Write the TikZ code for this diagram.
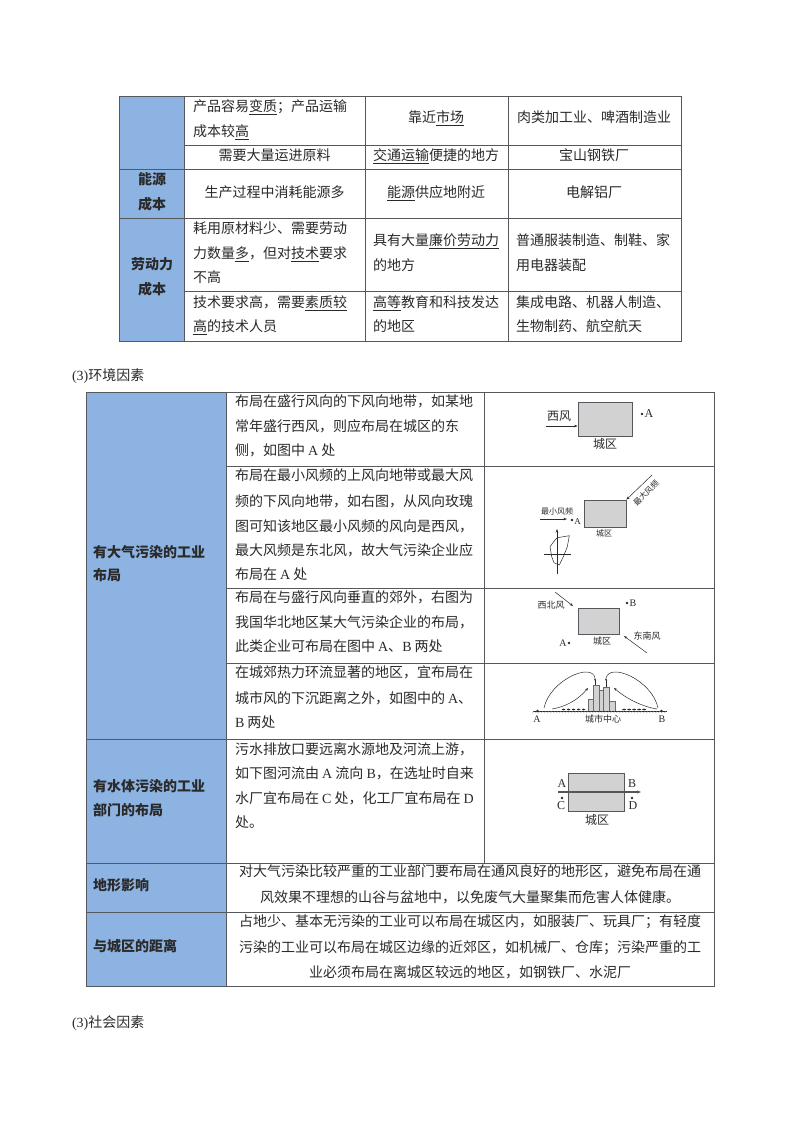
\documentclass[tikz,border=0pt]{standalone}
\usepackage{fontspec}
\setmainfont{Noto Sans CJK SC}
\newfontfamily\lat{Liberation Serif}
\usetikzlibrary{arrows.meta}
\definecolor{hdr}{HTML}{8DB3E2}
\definecolor{rule}{HTML}{55595E}
\definecolor{ink}{HTML}{2A2A2A}
\definecolor{city}{HTML}{D2D2D2}
\newcounter{tn}
\newcommand{\tx}[4]{\stepcounter{tn}\node[txt,anchor=#1] (t\arabic{tn}) at (#2,#3) {#4};}
\newcommand{\la}[1]{{\lat #1}}
\tikzset{
 txt/.style={inner sep=0pt,outer sep=0pt,text height=12pt,text depth=1.4pt,text=ink,font=\fontsize{14}{14}\selectfont},
 lab/.style={inner sep=0pt,outer sep=0pt,text=ink,font=\fontsize{#1}{#1}\selectfont},
 lab/.default=9,
 grid/.style={draw=rule,line width=0.9pt},
 cityb/.style={draw=rule,line width=0.8pt,fill=city,inner sep=0pt},
 wind/.style={draw=ink,line width=0.5pt,-{Stealth[length=3.5pt,width=2.5pt]}},
 fine/.style={draw=ink,line width=0.5pt},
 spot/.style={circle,fill=ink,inner sep=0pt,minimum size=2.6pt},
 bar/.style={draw=ink!70,line width=0.4pt,fill=city}
}
\begin{document}
\begin{tikzpicture}[x=1pt,y=-1pt]
\useasboundingbox (0,0) rectangle (800,1132);
\fill[white] (0,0) rectangle (800,1132);
% table 1
\fill[hdr] (119,96) rectangle (184,341);
\draw[grid] (119,96) rectangle (681,341);
\draw[grid] (184,96) -- (184,341) (365,96) -- (365,341) (508,96) -- (508,341);
\draw[grid] (184,145) -- (681,145) (119,169) -- (681,169) (119,218) -- (681,218) (184,291) -- (681,291);
\tx{west}{193}{106}{产品容易\underline{变质}；产品运输}
\tx{west}{193}{131}{成本较\underline{高}}
\tx{center}{274.5}{155}{需要大量运进原料}
\tx{center}{436}{117}{靠近\underline{市场}}
\tx{center}{594}{117}{肉类加工业、啤酒制造业}
\tx{center}{436}{155}{\underline{交通运输}便捷的地方}
\tx{center}{594}{155}{宝山钢铁厂}
\tx{center}{152}{179}{\textbf{能源}}
\tx{center}{152}{204}{\textbf{成本}}
\tx{center}{274.5}{192}{生产过程中消耗能源多}
\tx{center}{436}{192}{\underline{能源}供应地附近}
\tx{center}{594}{192}{电解铝厂}
\tx{center}{152}{264}{\textbf{劳动力}}
\tx{center}{152}{289}{\textbf{成本}}
\tx{west}{193}{228}{耗用原材料少、需要劳动}
\tx{west}{193}{253}{力数量\underline{多}，但对\underline{技术}要求}
\tx{west}{193}{277}{不高}
\tx{west}{373}{240}{具有大量\underline{廉价劳动力}}
\tx{west}{373}{265}{的地方}
\tx{west}{516}{240}{普通服装制造、制鞋、家}
\tx{west}{516}{265}{用电器装配}
\tx{west}{193}{302}{技术要求高，需要\underline{素质较}}
\tx{west}{193}{326}{\underline{高}的技术人员}
\tx{west}{373}{302}{\underline{高等}教育和科技发达}
\tx{west}{373}{326}{的地区}
\tx{west}{516}{302}{集成电路、机器人制造、}
\tx{west}{516}{326}{生物制药、航空航天}
% heading
\tx{west}{72}{375}{\la{(3)}环境因素}
\tx{west}{72}{1022}{\la{(3)}社会因素}
% table 2
\fill[hdr] (86,392) rectangle (226,986);
\draw[grid] (86,392) rectangle (714,986);
\draw[grid] (226,392) -- (226,986) (484,392) -- (484,863);
\draw[grid] (226,466) -- (714,466) (226,588) -- (714,588) (226,663) -- (714,663);
\draw[grid] (86,739) -- (714,739) (86,863) -- (714,863) (86,912) -- (714,912);
\tx{west}{93}{552}{\textbf{有大气污染的工业}}
\tx{west}{93}{575}{\textbf{布局}}
\tx{west}{93}{786}{\textbf{有水体污染的工业}}
\tx{west}{93}{810}{\textbf{部门的布局}}
\tx{west}{93}{885}{\textbf{地形影响}}
\tx{west}{93}{946}{\textbf{与城区的距离}}
\tx{west}{235}{401}{布局在盛行风向的下风向地带，如某地}
\tx{west}{235}{426}{常年盛行西风，则应布局在城区的东}
\tx{west}{235}{450}{侧，如图中 \la{A} 处}
\tx{west}{235}{475}{布局在最小风频的上风向地带或最大风}
\tx{west}{235}{501}{频的下风向地带，如右图，从风向玫瑰}
\tx{west}{235}{526}{图可知该地区最小风频的风向是西风，}
\tx{west}{235}{550}{最大风频是东北风，故大气污染企业应}
\tx{west}{235}{574}{布局在 \la{A} 处}
\tx{west}{235}{597}{布局在与盛行风向垂直的郊外，右图为}
\tx{west}{235}{622}{我国华北地区某大气污染企业的布局，}
\tx{west}{235}{646}{此类企业可布局在图中 \la{A}、\la{B} 两处}
\tx{west}{235}{672}{在城郊热力环流显著的地区，宜布局在}
\tx{west}{235}{698}{城市风的下沉距离之外，如图中的 \la{A}、}
\tx{west}{235}{722}{\la{B} 两处}
\tx{west}{235}{749}{污水排放口要远离水源地及河流上游，}
\tx{west}{235}{773}{如下图河流由 \la{A} 流向 \la{B}，在选址时自来}
\tx{west}{235}{798}{水厂宜布局在 \la{C} 处，化工厂宜布局在 \la{D}}
\tx{west}{235}{822}{处。}
\tx{center}{470}{871}{对大气污染比较严重的工业部门要布局在通风良好的地形区，避免布局在通}
\tx{center}{470}{897}{风效果不理想的山谷与盆地中，以免废气大量聚集而危害人体健康。}
\tx{center}{470}{921}{占地少、基本无污染的工业可以布局在城区内，如服装厂、玩具厂；有轻度}
\tx{center}{470}{947}{污染的工业可以布局在城区边缘的近郊区，如机械厂、仓库；污染严重的工}
\tx{center}{470}{972}{业必须布局在离城区较远的地区，如钢铁厂、水泥厂}
% diagram 1
\node[cityb,minimum width=54pt,minimum height=34pt] (c1) at (605,419) {};
\node[lab=12] (w1) at (559,416.5) {西风};
\coordinate (w1a) at (546,426);
\draw[wind] (w1a) -- (c1.west |- w1a);
\node[lab=12] (n1) at (605,444) {城区};
\node[spot] (s1) at (642,414) {};
\node[lab=12] (a1) at (649,414) {\la{A}};
% diagram 2
\node[cityb,minimum width=42pt,minimum height=27pt] (c2) at (605,513.5) {};
\coordinate (w2a) at (652,475);
\draw[wind] (w2a) -- (c2.north east);
\node[lab=8,rotate=45] (w2) at (646,493) {最大风频};
\node[lab=8] (w3) at (557,511) {最小风频};
\coordinate (w3a) at (540,519);
\coordinate (w3b) at (567,519);
\draw[wind] (w3a) -- (w3b);
\node[spot] (s2) at (572,520) {};
\node[lab=9] (a2) at (577.5,522) {\la{A}};
\node[lab=8] (n2) at (604,533) {城区};
\coordinate (r1) at (557,574);
\coordinate (r2) at (557,529);
\coordinate (r3) at (544,554);
\coordinate (r4) at (571,554);
\draw[wind] (r1) -- (r2);
\draw[fine] (r3) -- (r4);
\draw[fine] (557.3,537.7) -- (569.3,535.7) -- (567.3,546.7) -- (563.3,556.7) -- (559.3,565) -- (554,562.7) -- (551.7,556.7) -- (550,546.7) -- (555,540) -- cycle;
% diagram 3
\node[cityb,minimum width=41pt,minimum height=26pt] (c3) at (598.5,621) {};
\node[lab=9] (w4) at (551,605) {西北风};
\coordinate (w4a) at (555,592);
\coordinate (w4b) at (573,606);
\draw[wind] (w4a) -- (w4b);
\node[spot] (s3) at (627,603) {};
\node[lab=10] (b3) at (633,603) {\la{B}};
\node[spot] (s4) at (569,643) {};
\node[lab=10] (a3) at (563,643) {\la{A}};
\node[lab=9] (n3) at (602,641) {城区};
\node[lab=9] (w5) at (647,636) {东南风};
\coordinate (w5a) at (647,653);
\coordinate (w5b) at (624,636);
\draw[wind] (w5a) -- (w5b);
% diagram 4
\draw[bar] (588,699) rectangle (593,711);
\draw[bar] (593,685) rectangle (599,711);
\draw[bar] (599,690) rectangle (603,711);
\draw[bar] (603,687) rectangle (609,711);
\draw[bar] (609,701) rectangle (615,711);
\coordinate (g1) at (533,711);
\coordinate (g2) at (667,711);
\draw[draw=ink,line width=0.7pt] (g1) -- (g2);
\foreach \xa in {534,537,...,666}{
 \draw[draw=ink!60,line width=0.3pt] (\xa,711) -- (\xa-1.5,713);
}
\node[spot] (s5) at (537.5,711) {};
\node[spot] (s6) at (661.5,711) {};
\node[lab=10] (a4) at (537,719) {\la{A}};
\node[lab=10] (b4) at (662,719) {\la{B}};
\node[lab=9] (n4) at (603,719) {城市中心};
\coordinate (l1) at (544,708);
\coordinate (l2) at (595,678);
\coordinate (l3) at (552,709);
\coordinate (l4) at (588,688);
\coordinate (m1) at (658,708);
\coordinate (m2) at (606,678);
\coordinate (m3) at (657,709);
\coordinate (m4) at (614,688);
\draw[fine] (l1) .. controls (550,680) and (592,662) .. (l2);
\draw[fine] (m1) .. controls (652,680) and (610,662) .. (m2);
\draw[fine,-{Stealth[length=3pt,width=2.5pt]}] (l3) .. controls (565,707) and (578,700) .. (l4);
\draw[fine,-{Stealth[length=3pt,width=2.5pt]}] (m3) .. controls (644,707) and (628,700) .. (m4);
\foreach \xa in {562,567,572,577,582}{
 \draw[fine,-{Stealth[length=2.5pt,width=2pt]}] (\xa,709.5) -- (\xa+3.5,709.5);
}
\foreach \xa in {622,627,632,637,642}{
 \draw[fine,-{Stealth[length=2.5pt,width=2pt]}] (\xa+3.5,709.5) -- (\xa,709.5);
}
\draw[fine,-{Stealth[length=2.5pt,width=2pt]}] (595,685) -- (595,678);
\draw[fine,-{Stealth[length=2.5pt,width=2pt]}] (606,687) -- (606,678);
% diagram 5
\node[cityb,minimum width=56pt,minimum height=38pt] (c5) at (596,792) {};
\coordinate (q1) at (558,792);
\coordinate (q2) at (641,792);
\draw[draw=ink!80,line width=1.1pt,-{Stealth[length=4pt,width=3pt]}] (q1) -- (q2);
\node[lab=12] (a5) at (562,784) {\la{A}};
\node[lab=12] (b5) at (632,784) {\la{B}};
\node[lab=12] (c5l) at (561,806) {\la{C}};
\node[lab=12] (d5) at (633,806) {\la{D}};
\node[spot] (s7) at (562,798) {};
\node[spot] (s8) at (632,798) {};
\node[lab=12] (n5) at (597,820) {城区};
\end{tikzpicture}
\end{document}
